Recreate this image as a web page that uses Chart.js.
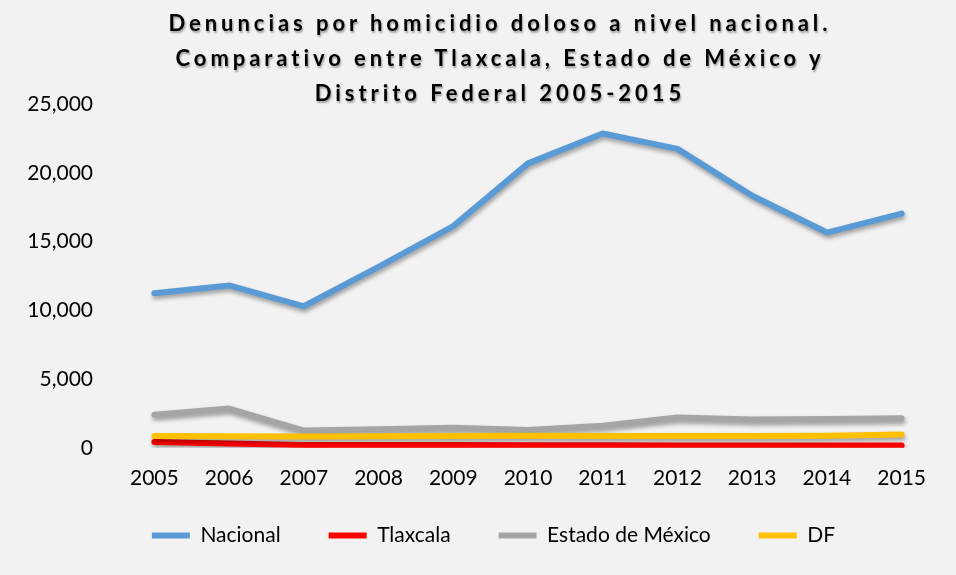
<!DOCTYPE html>
<html>
<head>
<meta charset="utf-8">
<script src="https://cdn.jsdelivr.net/npm/chart.js@4"></script>
<style>
    html, body { margin: 0; padding: 0; background: #f2f2f2; }
    #wrap { position: relative; width: 956px; height: 575px; background: #f2f2f2; }
    #titulo {
        position: absolute; left: 22px; top: 5px; width: 956px; text-align: center;
        font-family: Lato, "Open Sans", sans-serif; font-weight: bold; font-size: 22px;
        letter-spacing: 3.95px; line-height: 35px; color: #000;
        text-shadow: 1px 2px 2px rgba(0, 0, 0, 0.35);
    }
</style>
</head>
<body>
<div id="wrap">
    <canvas id="myChart" width="956" height="575"></canvas>
    <div id="titulo">Denuncias por homicidio doloso a nivel nacional.<br>Comparativo entre Tlaxcala, Estado de México y<br>Distrito Federal 2005-2015</div>
</div>
<script>
// años y series
var years = ['2005', '2006', '2007', '2008', '2009', '2010', '2011', '2012', '2013', '2014', '2015'];
var nacional = [11246, 11806, 10291, 13155, 16118, 20680, 22852, 21736, 18332, 15653, 17034];
var tlaxcala = [420, 310, 210, 200, 200, 190, 180, 175, 170, 170, 160];
var estadoMexico = [2400, 2850, 1250, 1350, 1450, 1300, 1600, 2200, 2050, 2100, 2150];
var df = [850, 840, 830, 840, 850, 870, 860, 850, 850, 870, 960];
var yTicks = [0, 5000, 10000, 15000, 20000, 25000];

// sombra de las líneas
var sombra = {
    id: 'sombra',
    beforeDatasetsDraw: function (chart) {
        var ctx = chart.ctx;
        ctx.save();
        ctx.shadowColor = 'rgba(0, 0, 0, 0.35)';
        ctx.shadowBlur = 4;
        ctx.shadowOffsetX = 1;
        ctx.shadowOffsetY = 3;
    },
    afterDatasetsDraw: function (chart) {
        chart.ctx.restore();
    },
    // la leyenda va un poco a la derecha y más arriba, como en el original
    afterLayout: function (chart) {
        chart.legend.left += 24;
        chart.legend.right += 24;
        chart.legend.top -= 10;
        chart.legend.bottom -= 10;
    }
};

function serie(label, data, color, order) {
    return {
        label: label,
        data: data,
        borderColor: color,
        backgroundColor: color,
        borderWidth: 6,
        borderCapStyle: 'round',
        borderJoinStyle: 'round',
        pointRadius: 0,
        tension: 0,
        fill: false,
        order: order
    };
}

var ctx = document.getElementById('myChart').getContext('2d');
var myChart = new Chart(ctx, {
    type: 'line',
    data: {
        labels: years,
        datasets: [
            serie('Nacional', nacional, '#5b9bd5', 4),
            serie('Tlaxcala', tlaxcala, '#ff0000', 3),
            serie('Estado de México', estadoMexico, '#a5a5a5', 2),
            serie('DF', df, '#ffc000', 1)
        ]
    },
    options: {
        responsive: false,
        animation: false,
        layout: {
            padding: { top: 104, right: 17, bottom: 9, left: 0 }
        },
        scales: {
            x: {
                offset: true,
                afterFit: function (scale) { scale.height -= 22; },
                grid: { display: false, drawTicks: false },
                border: { display: false },
                ticks: {
                    color: '#000',
                    padding: 18,
                    font: { family: 'Lato', size: 21 }
                }
            },
            y: {
                min: 0,
                max: 25000,
                afterFit: function (scale) { scale.width = 117; },
                afterBuildTicks: function (scale) {
                    scale.ticks = yTicks.map(function (v) { return { value: v }; });
                },
                grid: { display: false, drawTicks: false },
                border: { display: false },
                ticks: {
                    color: '#000',
                    padding: 24,
                    font: { family: 'Lato', size: 21 },
                    callback: function (value) { return value.toLocaleString('en-US'); }
                }
            }
        },
        plugins: {
            legend: {
                position: 'bottom',
                labels: {
                    usePointStyle: true,
                    pointStyle: 'line',
                    pointStyleWidth: 38,
                    boxHeight: 20,
                    padding: 48,
                    color: '#000',
                    font: { family: 'Lato', size: 21 },
                    sort: function (a, b) { return a.datasetIndex - b.datasetIndex; }
                }
            },
            title: { display: false },
            tooltip: { enabled: false }
        }
    },
    plugins: [sombra]
});
</script>
</body>
</html>
